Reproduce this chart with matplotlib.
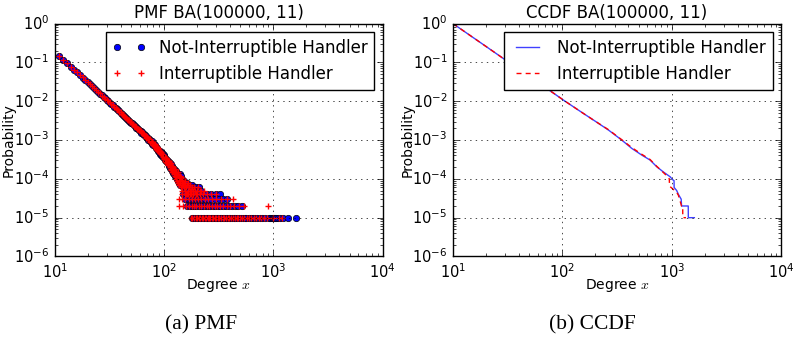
import numpy as np
import matplotlib
matplotlib.use('Agg')
import matplotlib.pyplot as plt

# ---------------- data ----------------
n_nodes = 100000

# PMF, contiguous degrees 11..110
deg_main = list(range(11, 111))
cnt_main_not = [14600, 11630, 9460, 7800, 6530, 5520, 4720, 4070, 3540, 3100,
                2730, 2420, 2160, 1930, 1740, 1570, 1420, 1300, 1180, 1085,
                1000, 920, 848, 783, 725, 673, 626, 583, 544, 509,
                477, 447, 420, 395, 373, 351, 332, 314, 297, 282,
                267, 254, 241, 230, 219, 209, 199, 190, 182, 174,
                170, 155, 158, 142, 145, 131, 134, 121, 124, 112,
                115, 103, 108, 96, 99, 88, 92, 80, 84, 74,
                79, 69, 73, 63, 68, 58, 62, 53, 57, 49,
                53, 45, 49, 42, 46, 39, 43, 36, 40, 34,
                38, 31, 35, 29, 33, 27, 31, 25, 29, 23]
cnt_main_int = [14550, 11680, 9420, 7840, 6500, 5550, 4690, 4100, 3510, 3120,
                2710, 2440, 2140, 1950, 1720, 1590, 1400, 1320, 1170, 1100,
                990, 930, 840, 790, 718, 680, 620, 590, 538, 515,
                470, 453, 414, 400, 367, 356, 327, 319, 292, 287,
                262, 259, 236, 235, 214, 213, 195, 194, 178, 178,
                162, 166, 149, 153, 136, 141, 126, 130, 116, 121,
                107, 112, 98, 104, 91, 96, 84, 89, 76, 83,
                72, 77, 66, 71, 60, 66, 55, 61, 51, 56,
                47, 52, 43, 48, 40, 45, 37, 42, 34, 39,
                32, 36, 29, 34, 27, 31, 25, 29, 23, 27]

# PMF, sparse mid range
deg_mid_not = list(range(111, 151)) + [152, 153, 154, 156, 157, 158, 160, 161, 163, 164,
                                       166, 168, 169, 171, 173, 175, 177, 179, 182, 184,
                                       187, 190, 195, 199, 204, 210, 216]
cnt_mid_not = [27, 21, 25, 19, 24, 18, 22, 16, 21, 17, 19, 14, 18, 13, 17, 15, 12, 16, 11, 14,
               12, 10, 13, 9, 12, 11, 8, 11, 10, 13, 7, 10, 9, 12, 8, 7, 10, 6, 9, 8,
               7, 9, 5, 8, 6, 7, 5, 6, 8, 5, 6, 4, 7, 5, 6, 4, 5, 7, 5, 6,
               4, 5, 6, 5, 5, 6, 5]
deg_mid_int = list(range(111, 151)) + [151, 152, 154, 155, 157, 159, 160, 162, 164, 165,
                                       167, 170, 172, 174, 176, 178, 181, 183, 186, 189,
                                       192, 196, 201, 206, 212, 220, 230]
cnt_mid_int = [25, 28, 20, 23, 18, 26, 17, 21, 15, 19, 16, 20, 13, 17, 12, 15, 18, 11, 14, 10,
               13, 9, 12, 15, 8, 11, 10, 7, 12, 9, 8, 11, 6, 10, 7, 9, 5, 8, 7, 10,
               6, 8, 5, 7, 9, 4, 6, 7, 5, 8, 4, 6, 5, 7, 4, 5, 6, 4, 5, 6,
               5, 4, 5, 6, 5, 5, 5]

# PMF tail rows (degrees having 4, 3, 2, 1 nodes)
tail4_not = [150, 158, 167, 181, 192, 203, 217, 231, 248, 268, 296, 325]
tail3_not = [155, 165, 174, 186, 197, 208, 221, 236, 252, 271, 293, 318, 345, 375]
tail2_not = [163, 172, 180, 189, 198, 207, 218, 228, 240, 252, 265, 279, 294, 310, 327,
             346, 367, 390, 416, 445, 478, 514]
tail1_not = [179, 185, 193, 200, 206, 213, 220, 226, 233, 240, 246, 253, 260, 267, 274,
             282, 290, 298, 306, 315, 324, 334, 344, 355, 366, 378, 391, 404, 418, 433,
             449, 466, 484, 503, 523, 545, 568, 593, 620, 648, 680, 715, 752, 795, 840,
             905, 940, 968, 985, 1000, 1012, 1040, 1060, 1110, 1160, 1230, 1372, 1615]
tail4_int = [145, 154, 163, 174, 186, 199, 213, 229, 247, 270, 300]
tail3_int = [137, 146, 157, 168, 180, 192, 205, 219, 235, 253, 274, 300, 335, 380, 431]
tail2_int = [137, 150, 160, 170, 179, 188, 198, 209, 220, 232, 245, 259, 274, 290, 308,
             328, 350, 375, 405, 440, 490, 543, 900]
tail1_int = [176, 182, 188, 195, 201, 207, 214, 221, 228, 235, 242, 250, 258, 266, 274,
             283, 292, 301, 311, 321, 332, 343, 355, 368, 381, 395, 410, 426, 443, 461,
             480, 500, 521, 544, 570, 598, 628, 660, 695, 733, 775, 820, 870, 1000, 1130,
             1194]

# CCDF curves
ccdf_x_not = [10, 20, 30, 50, 75, 106, 150, 200, 264, 349, 431, 532, 634, 730, 840, 968,
              1020, 1050, 1052, 1110, 1150, 1220, 1230, 1416, 1418, 1610]
ccdf_p_not = [1.0, 0.259, 0.117, 0.0434, 0.0197, 0.0100, 5.2e-3, 3.05e-3, 1.81e-3, 1.0e-3,
              6.1e-4, 4.1e-4, 3.05e-4, 2.05e-4, 1.5e-4, 1.13e-4, 9.5e-5, 9.0e-5, 6.0e-5,
              5.0e-5, 4.0e-5, 3.0e-5, 2.0e-5, 2.0e-5, 1.0e-5, 1.0e-5]
ccdf_x_int = [10, 20, 30, 50, 75, 106, 150, 200, 264, 349, 431, 532, 634, 730, 840, 900,
              950, 955, 1110, 1150, 1230, 1260, 1262, 1350]
ccdf_p_int = [1.0, 0.259, 0.117, 0.0434, 0.0197, 0.0100, 5.2e-3, 3.05e-3, 1.85e-3, 1.02e-3,
              6.4e-4, 4.3e-4, 3.15e-4, 2.1e-4, 1.45e-4, 1.2e-4, 1.0e-4, 6.5e-5, 4.5e-5,
              3.8e-5, 2.0e-5, 2.0e-5, 1.0e-5, 1.0e-5]

label_not = 'Not-Interruptible Handler'
label_int = 'Interruptible Handler'


def assemble(main_c, mid_d, mid_c, t4, t3, t2, t1):
    d = list(deg_main) + list(mid_d) + t4 + t3 + t2 + t1
    c = list(main_c) + list(mid_c) + [4] * len(t4) + [3] * len(t3) + [2] * len(t2) + [1] * len(t1)
    return np.array(d, float), np.array(c, float) / n_nodes


pmf_x_not, pmf_p_not = assemble(cnt_main_not, deg_mid_not, cnt_mid_not,
                                tail4_not, tail3_not, tail2_not, tail1_not)
pmf_x_int, pmf_p_int = assemble(cnt_main_int, deg_mid_int, cnt_mid_int,
                                tail4_int, tail3_int, tail2_int, tail1_int)

# ---------------- style ----------------
plt.style.use('classic')
plt.rcParams.update({
    'figure.facecolor': 'white',
    'savefig.facecolor': 'white',
    'font.family': ['DejaVu Sans'],
    'mathtext.fontset': 'cm',
    'axes.grid': True,
    'grid.color': 'black',
    'grid.linestyle': ':',
    'grid.linewidth': 0.5,
    'legend.numpoints': 2,
})

fig = plt.figure(figsize=(7.93, 3.39), dpi=100)
ax1 = fig.add_axes([0.069, 0.2434, 0.4135, 0.687])
ax2 = fig.add_axes([0.5712, 0.2434, 0.4138, 0.687])

ax1.plot(pmf_x_not, pmf_p_not, 'o', color='b', mec='k', mew=0.5, ms=4.6,
         label=label_not)
ax1.plot(pmf_x_int, pmf_p_int, '+', color='r', mec='r', mew=1.0, ms=4.5,
         label=label_int)
ax1.set_title('PMF BA(100000, 11)', fontsize=12, pad=4)

ax2.plot(ccdf_x_not, ccdf_p_not, '-', color='b', lw=1.0, alpha=0.75, label=label_not)
ax2.plot(ccdf_x_int, ccdf_p_int, '--', color='r', lw=1.0, dashes=(3.6, 3.0),
         label=label_int)
ax2.set_title('CCDF BA(100000, 11)', fontsize=12, pad=4)

for ax in (ax1, ax2):
    ax.set_xscale('log')
    ax.set_yscale('log')
    ax.set_xlim(10, 1e4)
    ax.set_ylim(1e-6, 1)
    ax.grid(True, which='major')
    ax.tick_params(labelsize=10.5)
    ax.set_xlabel('Degree $x$', fontsize=10)
    ax.set_ylabel('Probability', fontsize=10)
    ax.xaxis.set_label_coords(0.5, -0.088)
    ax.yaxis.set_label_coords(-0.118, 0.5)
    ax.legend(loc='upper right', fontsize=12, frameon=True, fancybox=False)

fig.text(0.2535, 0.041, '(a) PMF', family='Liberation Serif', fontsize=15.5,
         ha='center', va='center')
fig.text(0.7465, 0.041, '(b) CCDF', family='Liberation Serif', fontsize=15.5,
         ha='center', va='center')

fig.savefig('out.png', dpi=100)
